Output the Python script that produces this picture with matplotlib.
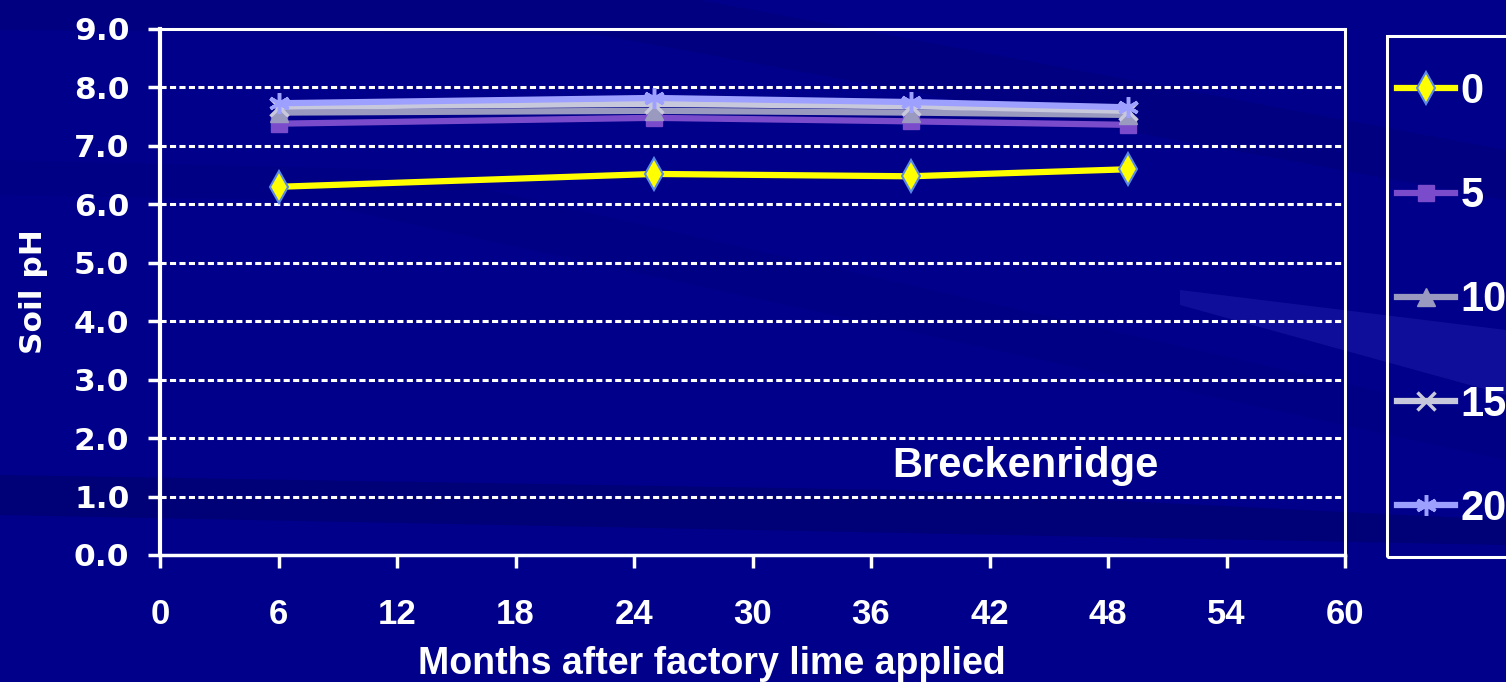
import matplotlib.pyplot as plt
from matplotlib.patches import Polygon, Rectangle
from matplotlib.font_manager import FontProperties

# data
months = [6, 25, 38, 49]
ph_0 = [6.30, 6.52, 6.48, 6.60]
ph_5 = [7.38, 7.48, 7.42, 7.36]
ph_10 = [7.57, 7.60, 7.57, 7.53]
ph_15 = [7.67, 7.72, 7.68, 7.60]
ph_20 = [7.73, 7.82, 7.75, 7.66]
series_labels = ['0', '5', '10', '15', '20']
x_ticks = list(range(0, 61, 6))
y_ticks = list(range(0, 10))

BG = '#00008a'
W, H = 1506, 682

fig = plt.figure(figsize=(W / 100, H / 100), dpi=100, facecolor=BG)

# faint background streaks
bg = fig.add_axes([0, 0, 1, 1], zorder=-10)
bg.set_xlim(0, W)
bg.set_ylim(H, 0)
bg.axis('off')
bands = [
    ([(0, 0), (700, 0), (1506, 150), (1506, 200), (600, 35), (0, 30)], '#000070', 0.35),
    ([(0, 160), (400, 170), (1506, 420), (1506, 460), (300, 200), (0, 195)], '#000078', 0.3),
    ([(1180, 290), (1506, 330), (1506, 395), (1180, 305)], '#2a2ab8', 0.35),
    ([(0, 475), (900, 490), (1506, 520), (1506, 545), (0, 515)], '#000062', 0.45),
]
for pts, col, a in bands:
    bg.add_patch(Polygon(pts, closed=True, facecolor=col, edgecolor='none', alpha=a))

ax = fig.add_axes([160 / W, 1 - 555 / H, (1345 - 160) / W, (555 - 29) / H])
ax.set_facecolor('none')

ax.plot(months, ph_0, color='#ffff00', lw=4.5, marker='d', ms=16,
        mfc='#ffff00', mec='#5a8ae6', mew=1.5, label=series_labels[0], zorder=5)
ax.plot(months, ph_5, color='#7a4ccc', lw=4.5, marker='s', ms=12,
        mfc='#7a4ccc', mec='#7a4ccc', label=series_labels[1], zorder=3)
ax.plot(months, ph_10, color='#9a9ac0', lw=4.5, marker='^', ms=13,
        mfc='#9a9ac0', mec='#9a9ac0', label=series_labels[2], zorder=3)
ax.plot(months, ph_15, color='#c8c8dc', lw=4.5, marker='x', ms=13,
        mec='#c8c8dc', mew=2.5, label=series_labels[3], zorder=4)
ax.plot(months, ph_20, color='#9ea0ff', lw=4.5, marker=(6, 2, 0), ms=15,
        mec='#9ea0ff', mew=2.5, label=series_labels[4], zorder=4)

ax.set_xlim(0, 60)
ax.set_ylim(0, 9)
ax.set_xticks(x_ticks)
ax.set_yticks(y_ticks)
ax.set_yticklabels(['%.1f' % v for v in y_ticks])

for g in y_ticks[1:-1]:
    ax.axhline(g, color='white', lw=2.2, dashes=(2.0, 1.1), zorder=1)

for s in ax.spines.values():
    s.set_color('white')
    s.set_linewidth(2.2)
ax.spines['left'].set_linewidth(3)
ax.spines['bottom'].set_linewidth(2.5)

ax.tick_params(axis='both', colors='white', direction='out', length=9, width=2.5)
ax.tick_params(axis='y', pad=13)
ax.tick_params(axis='x', pad=22)

ytick_font = FontProperties(family='DejaVu Sans', weight='bold', size=22.5)
xtick_font = FontProperties(family='Liberation Sans', weight='bold', size=25)
for t in ax.get_yticklabels():
    t.set_fontproperties(ytick_font)
    t.set_color('white')
for t in ax.get_xticklabels():
    t.set_fontproperties(xtick_font)
    t.set_color('white')

fig.text(712 / W, 1 - 674 / H, 'Months after factory lime applied', color='white',
         ha='center', va='baseline',
         fontproperties=FontProperties(family='Liberation Sans', weight='bold', size=27))
fig.text(33 / W, 1 - 292 / H, 'Soil pH', color='white', rotation=90,
         ha='center', va='center', fontsize=22.5, fontweight='bold', family='DejaVu Sans')

ax.text(43.8, 1.52, 'Breckenridge', color='white', ha='center', va='center',
        fontsize=30, fontweight='bold', family='Liberation Sans', zorder=6)

# legend box, its right edge runs off the figure
fig.patches.append(Rectangle((1387 / W, 1 - 557 / H), 200 / W, (557 - 36) / H,
                             transform=fig.transFigure, facecolor='none',
                             edgecolor='white', lw=2.2))
handles, labels = ax.get_legend_handles_labels()
leg = fig.legend(handles, labels, loc='upper left',
                 bbox_to_anchor=(1397 / W, 1 - 72 / H), frameon=False,
                 prop=FontProperties(family='Liberation Sans', weight='bold', size=30),
                 handlelength=1.4, handletextpad=0.12, labelspacing=1.54,
                 borderpad=0, borderaxespad=0, markerscale=1.0)
for t in leg.get_texts():
    t.set_color('white')

fig.savefig('out.png', dpi=100, facecolor=BG)
